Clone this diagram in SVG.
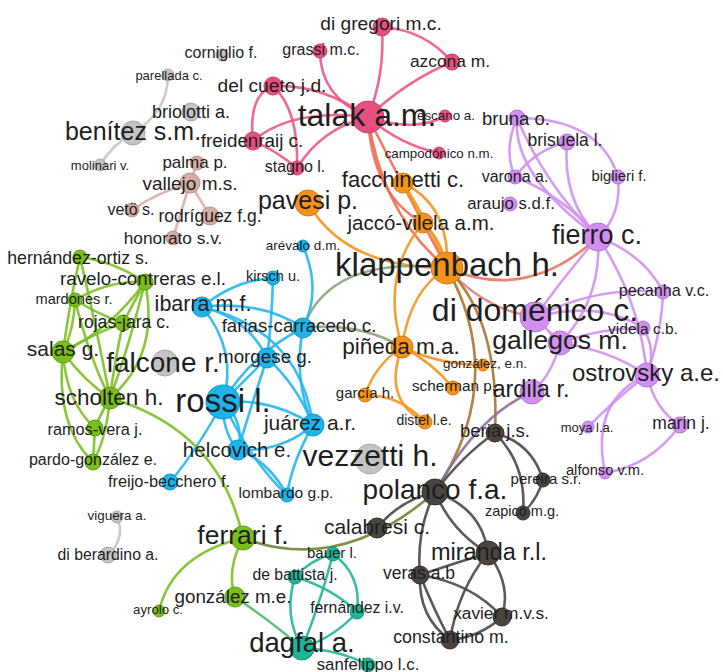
<svg xmlns="http://www.w3.org/2000/svg" width="723" height="672" viewBox="0 0 723 672">
<style>
text{font-family:"Liberation Sans",Arial,sans-serif;fill:#1e1e1e;text-anchor:middle;dominant-baseline:central}
#edges path{fill:none;stroke-width:2.6;stroke-linecap:round;opacity:.9}
.ep{stroke:#ec5a87}.eo{stroke:#f5951f}.eu{stroke:#d291f2}.eb{stroke:#25b7ee}.en{stroke:#7cc023}
.et{stroke:#22b598}.ed{stroke:#4d4743}.eg{stroke:#c6c6c6}.ev{stroke:#d6b0aa}
.eco{stroke:#f06c55}.ecr{stroke:#e9755f}.ecp{stroke:#e97d80}.ebr{stroke:#a8742c}.egr{stroke:#8ea27c}
.eol{stroke:#6b8431}.epd{stroke:#8e6f9e}.etn{stroke:#4cb96a}
circle{stroke-width:1}
.p circle{fill:#e94f7e;stroke:#c93f69}.o circle{fill:#f59219;stroke:#d57a10}
.u circle{fill:#d08ff1;stroke:#b575d6}.b circle{fill:#1db4ec;stroke:#0f97cc}
.n circle{fill:#79bf1b;stroke:#5f9f10}.t circle{fill:#1db598;stroke:#12967c}
.d circle{fill:#4a4440;stroke:#34302c}.g circle{fill:#c3c3c3;stroke:#a9a9a9}
.v circle{fill:#d6aca6;stroke:#bb918b}
</style>
<rect width="723" height="672" fill="#ffffff"/>
<g id="edges">
<!-- grey / rosy -->
<path class="eg" d="M168,75 Q168,112 133,133"/>
<path class="eg" d="M133,133 Q112,145 100,165"/>
<path class="eg" d="M117,517 Q126,538 108,555"/>
<path class="ev" d="M197,163 L190,183"/>
<path class="ev" d="M190,183 Q158,192 132,210"/>
<path class="ev" d="M190,183 L210,216"/>
<path class="ev" d="M190,183 L173,238"/>
<!-- pink -->
<path class="ep" d="M368,117 Q385,75 382,27"/>
<path class="ep" d="M382,27 Q425,30 452,62"/>
<path class="ep" d="M368,117 Q408,80 452,62"/>
<path class="ep" d="M320,51 Q320,97 368,117"/>
<path class="ep" d="M273,86 Q322,84 368,117"/>
<path class="ep" d="M273,86 Q248,95 253,141"/>
<path class="ep" d="M273,86 Q299,110 297,168"/>
<path class="ep" d="M253,141 Q292,108 368,117"/>
<path class="ep" d="M253,141 Q275,150 297,168"/>
<path class="ep" d="M297,168 Q322,128 368,117"/>
<path class="ep" d="M368,117 Q415,133 445,116"/>
<path class="ep" d="M368,117 Q400,145 439,153"/>
<!-- talak to orange -->
<path class="eco" d="M368,117 Q372,195 423,223"/>
<path class="eco" d="M368,117 Q382,215 447,268"/>
<path class="eco" d="M368,117 Q405,190 447,268"/>
<!-- orange -->
<path class="eo" d="M403,183 Q450,205 447,268"/>
<path class="eo" d="M403,183 Q432,228 447,268"/>
<path class="eo" d="M403,183 L423,223"/>
<path class="eo" d="M423,223 Q442,240 447,268"/>
<path class="eo" d="M308,203 Q345,268 447,268"/>
<path class="eo" d="M447,268 Q410,290 402,347"/>
<path class="eo" d="M423,223 Q380,275 402,347"/>
<path class="eo" d="M402,347 Q440,365 483,365"/>
<path class="eo" d="M402,347 Q432,362 453,388"/>
<path class="eo" d="M402,347 Q375,365 365,395"/>
<path class="eo" d="M402,347 Q382,400 425,422"/>
<path class="eo" d="M365,395 Q400,395 425,422"/>
<!-- mixed from klappenbach -->
<path class="egr" d="M303,328 Q360,322 402,347"/>
<path class="egr" d="M303,328 Q330,255 447,268"/>
<path class="ecr" d="M447,268 Q527,303 598,237"/>
<path class="ecp" d="M447,268 Q485,310 535,317"/>
<path class="ebr" d="M447,268 Q509,380 435,492"/>
<path class="ebr" d="M447,268 Q500,320 495,433"/>
<!-- purple -->
<path class="eu" d="M517,118 Q503,150 515,177"/>
<path class="eu" d="M517,118 Q545,185 598,237"/>
<path class="eu" d="M517,118 Q512,175 598,237"/>
<path class="eu" d="M517,118 Q600,118 618,177"/>
<path class="eu" d="M567,142 Q535,150 515,177"/>
<path class="eu" d="M567,142 Q562,200 598,237"/>
<path class="eu" d="M618,177 Q622,215 598,237"/>
<path class="eu" d="M515,177 Q562,195 598,237"/>
<path class="eu" d="M598,237 Q565,275 535,317"/>
<path class="eu" d="M598,237 Q602,300 560,343"/>
<path class="eu" d="M598,237 Q645,255 663,292"/>
<path class="eu" d="M598,237 Q640,300 647,375"/>
<path class="eu" d="M535,317 Q600,285 663,292"/>
<path class="eu" d="M535,317 Q600,300 643,328"/>
<path class="eu" d="M535,317 L560,343"/>
<path class="eu" d="M663,292 Q662,330 647,375"/>
<path class="eu" d="M560,343 Q600,328 643,328"/>
<path class="eu" d="M560,343 Q610,350 647,375"/>
<path class="eu" d="M560,343 Q552,375 532,392"/>
<path class="eu" d="M643,328 Q657,350 647,375"/>
<path class="eu" d="M647,375 Q655,410 680,425"/>
<path class="eu" d="M647,375 Q590,400 605,473"/>
<path class="eu" d="M647,375 Q612,402 588,427"/>
<path class="eu" d="M680,425 Q652,465 605,473"/>
<path class="epd" d="M532,392 Q478,415 435,492"/>
<!-- blue -->
<path class="eb" d="M202,307 Q235,280 273,278"/>
<path class="eb" d="M202,307 Q238,350 223,402"/>
<path class="eb" d="M202,307 Q248,318 267,358"/>
<path class="eb" d="M202,307 Q300,330 313,425"/>
<path class="eb" d="M202,307 Q262,300 303,328"/>
<path class="eb" d="M273,278 Q272,320 267,358"/>
<path class="eb" d="M303,246 Q322,290 303,328"/>
<path class="eb" d="M303,328 Q293,380 313,425"/>
<path class="eb" d="M303,328 Q250,355 223,402"/>
<path class="eb" d="M267,358 L223,402"/>
<path class="eb" d="M267,358 Q297,385 313,425"/>
<path class="eb" d="M267,358 Q250,410 238,450"/>
<path class="eb" d="M223,402 Q272,398 313,425"/>
<path class="eb" d="M223,402 Q222,432 238,450"/>
<path class="eb" d="M223,402 Q245,422 238,450"/>
<path class="eb" d="M223,402 Q197,450 170,482"/>
<path class="eb" d="M223,402 Q250,460 287,495"/>
<path class="eb" d="M238,450 Q282,452 313,425"/>
<path class="eb" d="M238,450 Q268,460 287,495"/>
<path class="eb" d="M313,425 Q292,462 287,495"/>
<!-- green -->
<path class="en" d="M80,257 Q115,262 145,282"/>
<path class="en" d="M80,257 Q70,300 63,352"/>
<path class="en" d="M80,257 Q97,330 110,398"/>
<path class="en" d="M145,282 Q110,280 75,300"/>
<path class="en" d="M145,282 Q134,302 123,323"/>
<path class="en" d="M145,282 Q110,330 63,352"/>
<path class="en" d="M145,282 Q128,350 110,398"/>
<path class="en" d="M145,282 Q160,355 110,398"/>
<path class="en" d="M75,300 Q74,330 63,352"/>
<path class="en" d="M75,300 Q100,315 123,323"/>
<path class="en" d="M75,300 Q90,360 110,398"/>
<path class="en" d="M123,323 Q95,333 63,352"/>
<path class="en" d="M123,323 Q114,365 110,398"/>
<path class="en" d="M63,352 Q85,382 110,398"/>
<path class="en" d="M63,352 Q66,402 95,428"/>
<path class="en" d="M63,352 Q55,425 93,462"/>
<path class="en" d="M110,398 Q100,415 95,428"/>
<path class="en" d="M110,398 Q106,440 93,462"/>
<path class="en" d="M95,428 L93,462"/>
<path class="en" d="M110,398 Q220,430 243,538"/>
<path class="en" d="M243,538 Q226,570 235,597"/>
<path class="en" d="M243,538 Q172,555 159,611"/>
<path class="eol" d="M243,538 Q341,575 435,492"/>
<path class="etn" d="M235,597 Q272,622 302,648"/>
<!-- teal -->
<path class="et" d="M333,554 Q310,560 295,577"/>
<path class="et" d="M333,554 Q362,575 357,612"/>
<path class="et" d="M333,554 Q318,610 302,648"/>
<path class="et" d="M295,577 Q283,615 302,648"/>
<path class="et" d="M295,577 Q332,588 357,612"/>
<path class="et" d="M357,612 Q335,637 302,648"/>
<path class="et" d="M302,648 Q340,650 368,665"/>
<!-- dark -->
<path class="ed" d="M495,433 Q463,455 435,492"/>
<path class="ed" d="M495,433 Q532,443 543,480"/>
<path class="ed" d="M495,433 Q527,465 523,513"/>
<path class="ed" d="M543,480 Q537,500 523,513"/>
<path class="ed" d="M435,492 Q482,508 488,553"/>
<path class="ed" d="M435,492 Q452,532 488,553"/>
<path class="ed" d="M435,492 Q416,530 420,575"/>
<path class="ed" d="M435,492 Q400,500 377,528"/>
<path class="ed" d="M488,553 Q455,563 420,575"/>
<path class="ed" d="M488,553 Q458,590 450,640"/>
<path class="ed" d="M488,553 Q512,585 502,617"/>
<path class="ed" d="M420,575 Q472,583 502,617"/>
<path class="ed" d="M420,575 Q418,617 450,640"/>
<path class="ed" d="M420,575 Q434,610 450,640"/>
<path class="ed" d="M502,617 Q480,637 450,640"/>
</g>
<g id="nodes">
<g id="rossi" class="b"><circle cx="223" cy="402" r="17"/><text x="223" y="400" font-size="33">rossi l.</text></g>
<g id="talak" class="p"><circle cx="368" cy="117" r="16"/><text x="367" y="115" font-size="32">talak a.m.</text></g>
<g id="klappenbach" class="o"><circle cx="447" cy="268" r="16"/><text x="447" y="264" font-size="33">klappenbach h.</text></g>
<g id="didomenico" class="u"><circle cx="535" cy="317" r="15"/><text x="535" y="310" font-size="32">di doménico c.</text></g>
<g id="vezzetti" class="g"><circle cx="370" cy="459" r="15"/><text x="370" y="455" font-size="30">vezzetti h.</text></g>
<g id="fierro" class="u"><circle cx="598" cy="237" r="14"/><text x="597" y="235" font-size="27">fierro c.</text></g>
<g id="polanco" class="d"><circle cx="435" cy="492" r="13"/><text x="435" y="489" font-size="28">polanco f.a.</text></g>
<g id="falcone" class="g"><circle cx="165" cy="363" r="13"/><text x="163" y="362" font-size="28">falcone r.</text></g>
<g id="pavesi" class="o"><circle cx="308" cy="203" r="13"/><text x="308" y="200" font-size="25">pavesi p.</text></g>
<g id="benitez" class="g"><circle cx="133" cy="133" r="12"/><text x="133" y="131" font-size="25">benítez s.m.</text></g>
<g id="gallegos" class="u"><circle cx="560" cy="343" r="12"/><text x="560" y="340" font-size="26.5">gallegos m.</text></g>
<g id="ostrovsky" class="u"><circle cx="647" cy="375" r="12"/><text x="646" y="372" font-size="24">ostrovsky a.e.</text></g>
<g id="ardila" class="u"><circle cx="532" cy="392" r="12"/><text x="531" y="389" font-size="23.5">ardila r.</text></g>
<g id="ferrari" class="n"><circle cx="243" cy="538" r="12"/><text x="243" y="535" font-size="26.5">ferrari f.</text></g>
<g id="dagfal" class="t"><circle cx="302" cy="648" r="12"/><text x="302" y="642" font-size="27.5">dagfal a.</text></g>
<g id="miranda" class="d"><circle cx="488" cy="553" r="12"/><text x="489" y="552" font-size="23.5">miranda r.l.</text></g>
<g id="scholten" class="n"><circle cx="110" cy="398" r="11"/><text x="109" y="397" font-size="22.5">scholten h.</text></g>
<g id="salas" class="n"><circle cx="63" cy="352" r="11"/><text x="63" y="348" font-size="21">salas g.</text></g>
<g id="pineda" class="o"><circle cx="402" cy="347" r="11"/><text x="401" y="346" font-size="22.5">piñeda m.a.</text></g>
<g id="juarez" class="b"><circle cx="313" cy="425" r="11"/><text x="310" y="422" font-size="21">juárez a.r.</text></g>
<g id="calabresi" class="d"><circle cx="377" cy="528" r="10"/><text x="377" y="526" font-size="21">calabresi c.</text></g>
<g id="helcovich" class="b"><circle cx="238" cy="450" r="10"/><text x="237" y="449" font-size="20.5">helcovich e.</text></g>
<g id="ibarra" class="b"><circle cx="202" cy="307" r="10"/><text x="203" y="304" font-size="21.5">ibarra m.f.</text></g>
<g id="facchinetti" class="o"><circle cx="403" cy="183" r="10"/><text x="403" y="179" font-size="22">facchinetti c.</text></g>
<g id="jacco-vilela" class="o"><circle cx="423" cy="223" r="10"/><text x="421" y="222" font-size="20.5">jaccó-vilela a.m.</text></g>
<g id="farias-carracedo" class="b"><circle cx="303" cy="328" r="10"/><text x="299" y="325" font-size="18.7">farias-carracedo c.</text></g>
<g id="morgese" class="b"><circle cx="267" cy="358" r="10"/><text x="265" y="356" font-size="18.8">morgese g.</text></g>
<g id="vallejo" class="v"><circle cx="190" cy="183" r="10"/><text x="190" y="183" font-size="19">vallejo m.s.</text></g>
<g id="gonzalez-me" class="n"><circle cx="235" cy="597" r="10"/><text x="233" y="596" font-size="18.8">gonzález m.e.</text></g>
<g id="briolotti" class="g"><circle cx="191" cy="112" r="9"/><text x="191" y="112" font-size="18">briolotti a.</text></g>
<g id="digregori" class="p"><circle cx="382" cy="27" r="9"/><text x="381" y="23" font-size="19.2">di gregori m.c.</text></g>
<g id="delcueto" class="p"><circle cx="273" cy="86" r="9"/><text x="272" y="85" font-size="19.2">del cueto j.d.</text></g>
<g id="freidenraij" class="p"><circle cx="253" cy="141" r="9"/><text x="252" y="140" font-size="18.8">freidenraij c.</text></g>
<g id="beria" class="d"><circle cx="495" cy="433" r="9"/><text x="495" y="430" font-size="18.5">beria j.s.</text></g>
<g id="veras" class="d"><circle cx="420" cy="575" r="9"/><text x="419" y="573" font-size="17.5">veras a.b</text></g>
<g id="xavier" class="d"><circle cx="502" cy="617" r="9"/><text x="501" y="613" font-size="17.3">xavier m.v.s.</text></g>
<g id="constantino" class="d"><circle cx="450" cy="640" r="9"/><text x="451" y="637" font-size="17.8">constantino m.</text></g>
<g id="rodriguez" class="v"><circle cx="210" cy="216" r="9"/><text x="210" y="216" font-size="17.5">rodríguez f.g.</text></g>
<g id="azcona" class="p"><circle cx="452" cy="62" r="8"/><text x="450" y="61" font-size="17.4">azcona m.</text></g>
<g id="bruna" class="u"><circle cx="517" cy="118" r="8"/><text x="516" y="118" font-size="18.5">bruna o.</text></g>
<g id="brisuela" class="u"><circle cx="567" cy="142" r="8"/><text x="565" y="140" font-size="17.5">brisuela l.</text></g>
<g id="marin" class="u"><circle cx="680" cy="425" r="8"/><text x="681" y="423" font-size="17.5">marin j.</text></g>
<g id="ravelo-contreras" class="n"><circle cx="145" cy="282" r="8"/><text x="143" y="278" font-size="18.8">ravelo-contreras e.l.</text></g>
<g id="rojas-jara" class="n"><circle cx="123" cy="323" r="8"/><text x="124" y="322" font-size="17.6">rojas-jara c.</text></g>
<g id="ramos-vera" class="n"><circle cx="95" cy="428" r="8"/><text x="95" y="429" font-size="16.3">ramos-vera j.</text></g>
<g id="pardo-gonzalez" class="n"><circle cx="93" cy="462" r="8"/><text x="93" y="459" font-size="16">pardo-gonzález e.</text></g>
<g id="freijo-becchero" class="b"><circle cx="170" cy="482" r="8"/><text x="169" y="481" font-size="16.4">freijo-becchero f.</text></g>
<g id="diberardino" class="g"><circle cx="108" cy="555" r="8"/><text x="108" y="554" font-size="15.8">di berardino a.</text></g>
<g id="grassi" class="p"><circle cx="320" cy="51" r="7"/><text x="321" y="49" font-size="16">grassi m.c.</text></g>
<g id="stagno" class="p"><circle cx="297" cy="168" r="7"/><text x="295" y="166" font-size="16">stagno l.</text></g>
<g id="scherman" class="o"><circle cx="453" cy="388" r="7"/><text x="454" y="385" font-size="15.3">scherman p.</text></g>
<g id="garcia" class="o"><circle cx="365" cy="395" r="7"/><text x="365" y="392" font-size="15">garcía h.</text></g>
<g id="distel" class="o"><circle cx="425" cy="422" r="7"/><text x="424" y="420" font-size="14">distel l.e.</text></g>
<g id="varona" class="u"><circle cx="515" cy="177" r="7"/><text x="515" y="176" font-size="16">varona a.</text></g>
<g id="biglieri" class="u"><circle cx="618" cy="177" r="7"/><text x="619" y="176" font-size="14.8">biglieri f.</text></g>
<g id="araujo" class="u"><circle cx="510" cy="204" r="7"/><text x="511" y="203" font-size="16.8">araujo s.d.f.</text></g>
<g id="pecanha" class="u"><circle cx="663" cy="292" r="7"/><text x="664" y="290" font-size="16.2">pecanha v.c.</text></g>
<g id="videla" class="u"><circle cx="643" cy="328" r="7"/><text x="643" y="328" font-size="15.5">videla c.b.</text></g>
<g id="kirsch" class="b"><circle cx="273" cy="278" r="7"/><text x="273" y="276" font-size="14.5">kirsch u.</text></g>
<g id="lombardo" class="b"><circle cx="287" cy="495" r="7"/><text x="286" y="492" font-size="15.5">lombardo g.p.</text></g>
<g id="hernandez-ortiz" class="n"><circle cx="80" cy="257" r="7"/><text x="78" y="258" font-size="17.7">hernández-ortiz s.</text></g>
<g id="mardones" class="n"><circle cx="75" cy="300" r="7"/><text x="74" y="299" font-size="14.6">mardones r.</text></g>
<g id="bauer" class="t"><circle cx="333" cy="554" r="7"/><text x="332" y="552" font-size="15">bauer l.</text></g>
<g id="debattista" class="t"><circle cx="295" cy="577" r="7"/><text x="295" y="574" font-size="15.8">de battista j.</text></g>
<g id="fernandez" class="t"><circle cx="357" cy="612" r="7"/><text x="357" y="607" font-size="15.8">fernández i.v.</text></g>
<g id="sanfelippo" class="t"><circle cx="368" cy="665" r="7"/><text x="368" y="664" font-size="16.8">sanfelippo l.c.</text></g>
<g id="pereira" class="d"><circle cx="543" cy="480" r="7"/><text x="546" y="478" font-size="15">pereira s.r.</text></g>
<g id="zapico" class="d"><circle cx="523" cy="513" r="7"/><text x="522" y="511" font-size="14.5">zapico m.g.</text></g>
<g id="palma" class="v"><circle cx="197" cy="163" r="7"/><text x="195" y="162" font-size="17">palma p.</text></g>
<g id="veto" class="v"><circle cx="132" cy="210" r="7"/><text x="131" y="209" font-size="16">vetö s.</text></g>
<g id="honorato" class="v"><circle cx="173" cy="238" r="7"/><text x="173" y="238" font-size="17.3">honorato s.v.</text></g>
<g id="corniglio" class="g"><circle cx="222" cy="55" r="6"/><text x="221" y="52" font-size="16">corniglio f.</text></g>
<g id="parellada" class="g"><circle cx="168" cy="75" r="6"/><text x="169" y="75" font-size="13">parellada c.</text></g>
<g id="molinari" class="g"><circle cx="100" cy="165" r="6"/><text x="100" y="165" font-size="13">molinari v.</text></g>
<g id="viguera" class="g"><circle cx="117" cy="517" r="6"/><text x="117" y="515" font-size="13.4">viguera a.</text></g>
<g id="escano" class="p"><circle cx="445" cy="116" r="6"/><text x="446" y="115" font-size="13.4">escano a.</text></g>
<g id="campodonico" class="p"><circle cx="439" cy="153" r="6"/><text x="439" y="153" font-size="13.3">campodónico n.m.</text></g>
<g id="gonzalez-en" class="o"><circle cx="483" cy="365" r="6"/><text x="485" y="363" font-size="13.5">gonzález, e.n.</text></g>
<g id="moya" class="u"><circle cx="588" cy="427" r="6"/><text x="587" y="427" font-size="13">moya l.a.</text></g>
<g id="alfonso" class="u"><circle cx="605" cy="473" r="6"/><text x="605" y="470" font-size="14.7">alfonso v.m.</text></g>
<g id="arevalo" class="b"><circle cx="303" cy="246" r="6"/><text x="303" y="245" font-size="13.5">arévalo d.m.</text></g>
<g id="ayrolo" class="n"><circle cx="159" cy="611" r="6"/><text x="158" y="609" font-size="13.2">ayrolo c.</text></g>
</g>
</svg>
